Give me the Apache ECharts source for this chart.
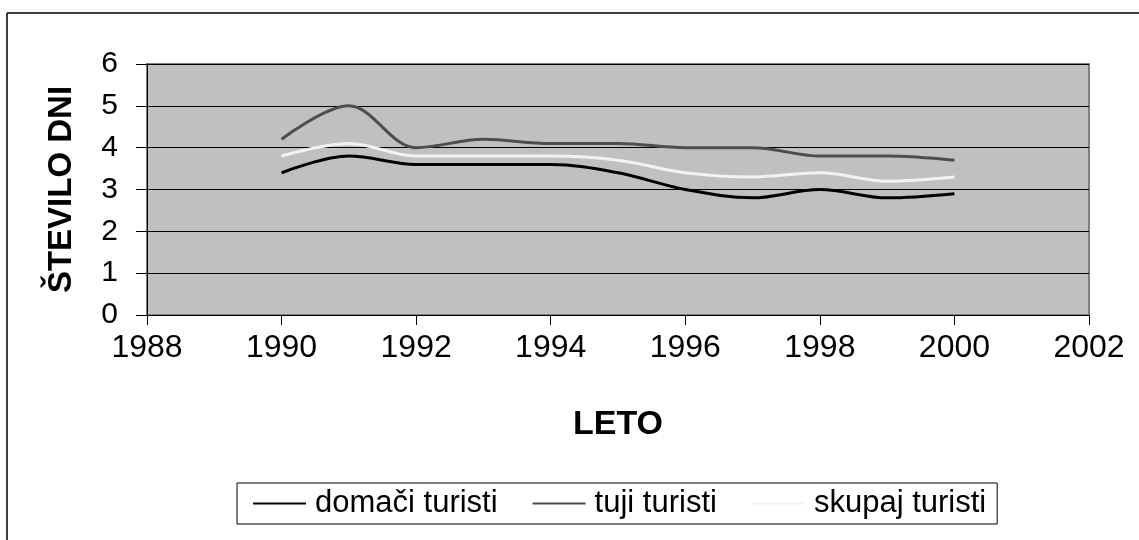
<!DOCTYPE html>
<html>
<head>
<meta charset="utf-8">
<script src="https://cdn.jsdelivr.net/npm/echarts@6/dist/echarts.min.js"></script>
<style>
    html, body { margin: 0; padding: 0; background: #fff; }
    #chart { width: 1139px; height: 540px; }
</style>
</head>
<body>
<div id="chart"></div>
<script>
// leta in povprecno stevilo dni
var years = [1990, 1991, 1992, 1993, 1994, 1995, 1996, 1997, 1998, 1999, 2000];
var domaci = [3.4, 3.8, 3.6, 3.6, 3.6, 3.4, 3.0, 2.8, 3.0, 2.8, 2.9];
var tuji = [4.2, 5.0, 4.0, 4.2, 4.1, 4.1, 4.0, 4.0, 3.8, 3.8, 3.7];
var skupaj = [3.8, 4.1, 3.8, 3.8, 3.8, 3.7, 3.4, 3.3, 3.4, 3.2, 3.3];
var seriesNames = ["domači turisti", "tuji turisti", "skupaj turisti"];

function pairs(values) {
    return values.map(function (v, i) {
        return [years[i], v];
    });
}

var font = "Liberation Sans, Arial, sans-serif";
var myChart = echarts.init(document.getElementById("chart"));

var option = {
    backgroundColor: "#fff",
    animation: false,
    // okvir okoli grafa
    graphic: [
        { type: "line", shape: { x1: 7, y1: 13, x2: 1139, y2: 13 }, style: { stroke: "#000", lineWidth: 1.5 } },
        { type: "line", shape: { x1: 7, y1: 13, x2: 7, y2: 540 }, style: { stroke: "#000", lineWidth: 1.5 } }
    ],
    grid: {
        left: 147,
        right: 50,
        top: 64,
        bottom: 225,
        show: true,
        backgroundColor: "#c0c0c0",
        borderColor: "#808080",
        borderWidth: 2
    },
    legend: {
        left: 237,
        top: 483,
        data: seriesNames,
        icon: "rect",
        itemWidth: 53,
        itemHeight: 2,
        itemGap: 35,
        padding: [5, 11, 5, 16],
        borderColor: "#000",
        borderWidth: 1,
        backgroundColor: "#fff",
        textStyle: { fontFamily: font, fontSize: 31, color: "#000", padding: [0, 0, 0, 4], height: 30, lineHeight: 30 }
    },
    xAxis: {
        type: "value",
        min: 1988,
        max: 2002,
        interval: 2,
        name: "LETO",
        nameLocation: "middle",
        nameGap: 93,
        nameTextStyle: { fontFamily: font, fontSize: 34, fontWeight: "bold", color: "#000" },
        axisLine: { lineStyle: { color: "#000", width: 1 } },
        axisTick: { length: 10, lineStyle: { color: "#000" } },
        axisLabel: { margin: 17, fontFamily: font, fontSize: 32, color: "#000", formatter: function (v) { return String(v); } },
        splitLine: { show: false }
    },
    yAxis: {
        type: "value",
        min: 0,
        max: 6,
        interval: 1,
        name: "ŠTEVILO DNI",
        nameLocation: "middle",
        nameGap: 69,
        nameTextStyle: { fontFamily: font, fontSize: 33, fontWeight: "bold", color: "#000" },
        axisLine: { show: true, lineStyle: { color: "#000", width: 1 } },
        axisTick: { show: true, length: 11, lineStyle: { color: "#000" } },
        axisLabel: { margin: 29, fontFamily: font, fontSize: 30, color: "#000" },
        splitLine: { lineStyle: { color: "#000", width: 1 } }
    },
    series: [{
        name: seriesNames[0],
        type: "line",
        smooth: 0.35,
        symbol: "none",
        data: pairs(domaci),
        lineStyle: { color: "#000", width: 3 },
        itemStyle: { color: "#000" }
    }, {
        name: seriesNames[1],
        type: "line",
        smooth: 0.35,
        symbol: "none",
        data: pairs(tuji),
        lineStyle: { color: "#4d4d4d", width: 3 },
        itemStyle: { color: "#4d4d4d" }
    }, {
        name: seriesNames[2],
        type: "line",
        smooth: 0.35,
        symbol: "none",
        data: pairs(skupaj),
        lineStyle: { color: "#f2f2f2", width: 3 },
        itemStyle: { color: "#f2f2f2" }
    }]
};

myChart.setOption(option);
</script>
</body>
</html>
